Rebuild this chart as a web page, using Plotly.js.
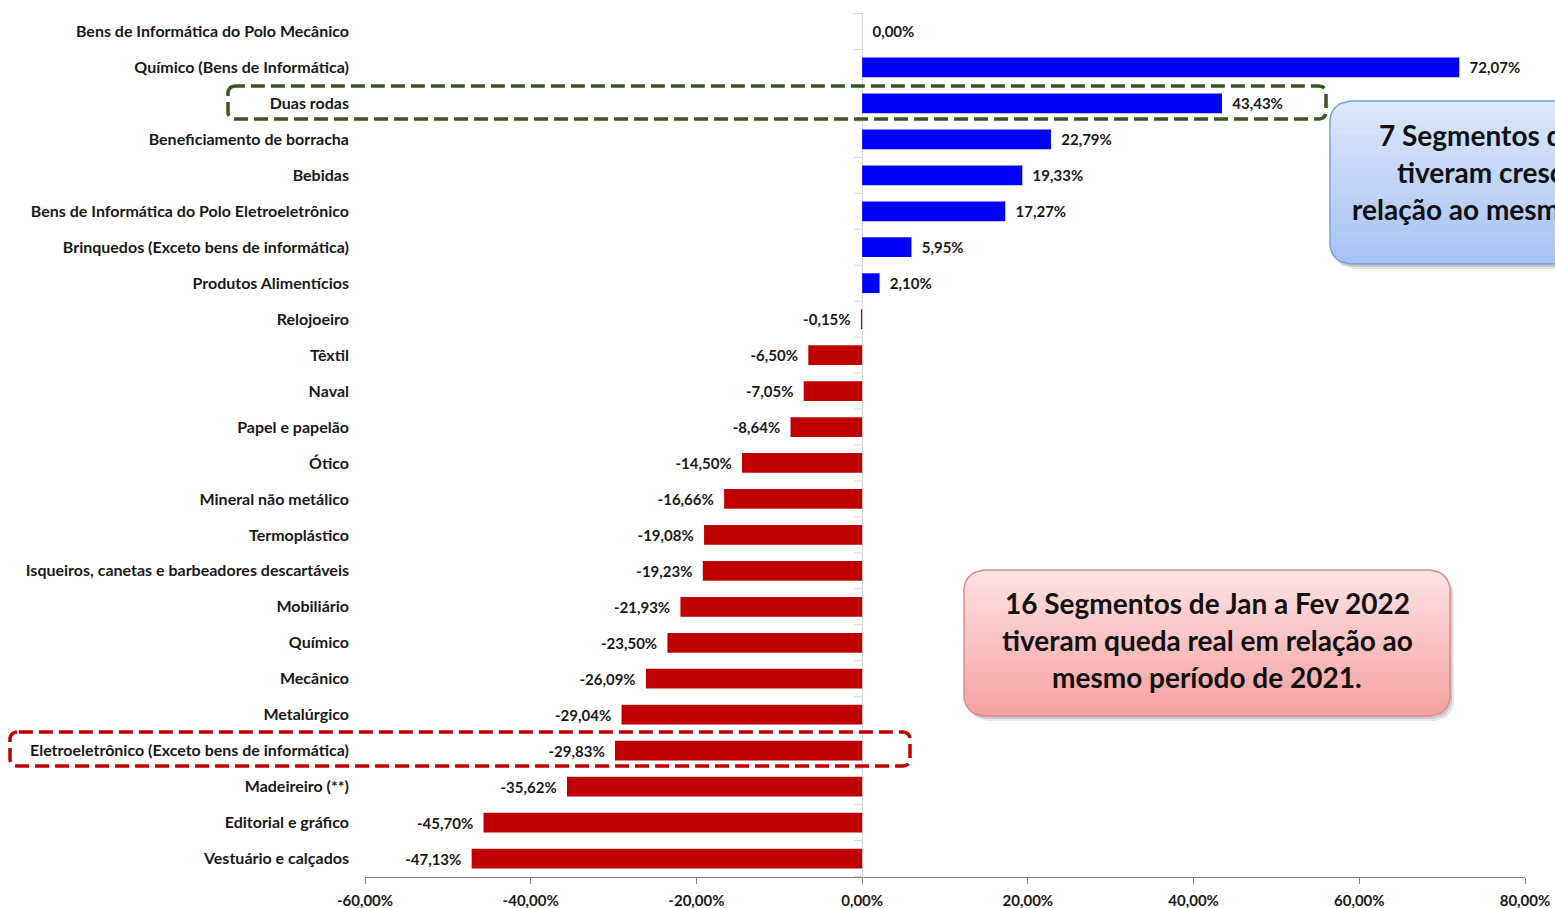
<!DOCTYPE html>
<html><head><meta charset="utf-8">
<script src="https://cdn.plot.ly/plotly-3.0.1.min.js"></script>
<style>html,body{margin:0;padding:0;background:#fff;}#chart{width:1555px;height:908px;}</style>
</head><body><div id="chart"></div>
<script>
const categories = [
  "Bens de Informática do Polo Mecânico",
  "Químico (Bens de Informática)",
  "Duas rodas",
  "Beneficiamento de borracha",
  "Bebidas",
  "Bens de Informática do Polo Eletroeletrônico",
  "Brinquedos (Exceto bens de informática)",
  "Produtos Alimentícios",
  "Relojoeiro",
  "Têxtil",
  "Naval",
  "Papel e papelão",
  "Ótico",
  "Mineral não metálico",
  "Termoplástico",
  "Isqueiros, canetas e barbeadores descartáveis",
  "Mobiliário",
  "Químico",
  "Mecânico",
  "Metalúrgico",
  "Eletroeletrônico (Exceto bens de informática)",
  "Madeireiro (**)",
  "Editorial e gráfico",
  "Vestuário e calçados"
];
const values = [0.00, 72.07, 43.43, 22.79, 19.33, 17.27, 5.95, 2.10, -0.15, -6.50, -7.05, -8.64, -14.50, -16.66, -19.08, -19.23, -21.93, -23.50, -26.09, -29.04, -29.83, -35.62, -45.70, -47.13];
const xTickVals = [-60, -40, -20, 0, 20, 40, 60, 80];
const greenBoxLines = ["7 Segmentos de Jan a Fev 2022", "tiveram crescimento real em", "relação ao mesmo período de 2021."];
const redBoxLines = ["16 Segmentos de Jan a Fev 2022", "tiveram queda real em relação ao", "mesmo período de 2021."];

const fmt = v => v.toFixed(2).replace('.', ',') + '%';
const NB = '\u00a0\u00a0';
const labels = values.map(v => v >= 0 ? NB + fmt(v) : fmt(v) + NB);
const colors = values.map(v => v >= 0 ? '#0000FF' : '#C00000');

// plot-area geometry (pixels)
const L = 365, T = 13, W = 1160, H = 864;
const px = x => (x - L) / W;
const py = y => (T + H - y) / H;

function xAt(x0, x1, y0, y1, r, y, side) {
  let dy = 0;
  if (y < y0 + r) dy = y0 + r - y;
  else if (y > y1 - r) dy = y - (y1 - r);
  const off = r - Math.sqrt(Math.max(0, r * r - dy * dy));
  return side === 'l' ? x0 + off : x1 - off;
}
function stripPath(x0, x1, y0, y1, r, ya, yb, n) {
  const left = [], right = [];
  for (let i = 0; i <= n; i++) {
    const y = ya + (yb - ya) * i / n;
    left.push([xAt(x0, x1, y0, y1, r, y, 'l'), y]);
    right.push([xAt(x0, x1, y0, y1, r, y, 'r'), y]);
  }
  const pts = left.concat(right.reverse());
  return 'M' + pts.map(p => px(p[0]).toFixed(5) + ',' + py(p[1]).toFixed(5)).join('L') + 'Z';
}
function roundPath(x0, y0, x1, y1, r) {
  return stripPath(x0, x1, y0, y1, r, y0, y1, 60);
}
function hexToRgb(h) { return [1, 3, 5].map(i => parseInt(h.substr(i, 2), 16)); }
function mix(a, b, t) {
  const A = hexToRgb(a), B = hexToRgb(b);
  return 'rgb(' + A.map((v, i) => Math.round(v + (B[i] - v) * t)).join(',') + ')';
}
function gradientBox(x0, y0, x1, y1, r, top, bottom, border) {
  const shapes = [];
  shapes.push({type: 'path', xref: 'paper', yref: 'paper', layer: 'above', path: roundPath(x0 + 4, y0 + 5, x1 + 4, y1 + 5, r), fillcolor: 'rgba(0,0,0,0.10)', line: {width: 0}});
  shapes.push({type: 'path', xref: 'paper', yref: 'paper', layer: 'above', path: roundPath(x0 + 2, y0 + 3, x1 + 2, y1 + 3, r), fillcolor: 'rgba(0,0,0,0.12)', line: {width: 0}});
  const n = 24;
  for (let i = 0; i < n; i++) {
    const ya = y0 + (y1 - y0) * i / n, yb = y0 + (y1 - y0) * (i + 1) / n + 0.6;
    shapes.push({type: 'path', xref: 'paper', yref: 'paper', layer: 'above', path: stripPath(x0, x1, y0, y1, r, ya, Math.min(yb, y1), 6), fillcolor: mix(top, bottom, (i + 0.5) / n), line: {width: 0}});
  }
  shapes.push({type: 'path', xref: 'paper', yref: 'paper', layer: 'above', path: roundPath(x0, y0, x1, y1, r), fillcolor: 'rgba(0,0,0,0)', line: {color: border, width: 1.5}});
  return shapes;
}

const shapes = []
  .concat(gradientBox(1330, 101, 1817, 264, 20, '#dde8fb', '#a5c2f3', '#7fa0d6'))
  .concat(gradientBox(964, 570, 1450, 716, 20, '#ffe3e3', '#f6a0a0', '#d98e8d'));
shapes.push({type: 'path', xref: 'paper', yref: 'paper', layer: 'above', path: roundPath(228, 86, 1326, 119, 7), fillcolor: 'rgba(0,0,0,0)', line: {color: '#375623', width: 3.5, dash: '14px,6px'}});
shapes.push({type: 'path', xref: 'paper', yref: 'paper', layer: 'above', path: roundPath(10, 732, 910, 766, 7), fillcolor: 'rgba(0,0,0,0)', line: {color: '#C00000', width: 3.5, dash: '14px,6px'}});
// small category tick marks on the vertical axis at zero
for (let i = 0; i <= categories.length; i++) {
  shapes.push({type: 'line', xref: 'x', yref: 'y', x0: -1, x1: 0, y0: i - 0.5, y1: i - 0.5, layer: 'below', line: {color: '#d9d9d9', width: 1}});
}

const boxFont = {family: 'Lato, "Open Sans", sans-serif', size: 28, color: '#111', weight: 'bold'};
const annotations = [];
greenBoxLines.forEach((t, i) => annotations.push({xref: 'paper', yref: 'paper', x: px(1573), y: py(135 + 37 * i), text: t, showarrow: false, xanchor: 'center', yanchor: 'middle', font: boxFont}));
redBoxLines.forEach((t, i) => annotations.push({xref: 'paper', yref: 'paper', x: px(1207), y: py(603 + 37 * i), text: t, showarrow: false, xanchor: 'center', yanchor: 'middle', font: boxFont}));

const trace = {
  type: 'bar', orientation: 'h',
  y: categories, x: values,
  marker: {color: colors, line: {width: 0}},
  width: 0.55,
  text: labels, textposition: 'outside', cliponaxis: false,
  textfont: {family: 'Lato, sans-serif', size: 15, color: '#1a1a1a', weight: 'bold'},
  hoverinfo: 'y+x'
};

const layout = {
  width: 1555, height: 908, autosize: false,
  margin: {l: L, r: 1555 - L - W, t: T, b: 908 - T - H, pad: 0},
  paper_bgcolor: '#fff', plot_bgcolor: '#fff',
  showlegend: false,
  separators: ',.',
  font: {family: 'Lato, sans-serif', color: '#1a1a1a'},
  xaxis: {
    range: [-60, 80], tickvals: xTickVals, ticktext: xTickVals.map(fmt),
    showgrid: false, zeroline: true, zerolinecolor: '#d9d9d9', zerolinewidth: 1,
    showline: true, linecolor: '#868686', linewidth: 1,
    ticks: 'outside', ticklen: 6, tickcolor: '#868686',
    ticklabelstandoff: 4,
    tickfont: {family: 'Lato, sans-serif', size: 15, color: '#1a1a1a', weight: 'bold'},
    fixedrange: true
  },
  yaxis: {
    type: 'category', autorange: 'reversed',
    showgrid: false, zeroline: false, showline: false, ticks: '',
    ticklabelstandoff: 15,
    tickfont: {family: 'Lato, sans-serif', size: 16, color: '#1a1a1a', weight: 'bold'},
    fixedrange: true
  },
  bargap: 0.45,
  shapes: shapes,
  annotations: annotations
};

Plotly.newPlot('chart', [trace], layout, {displayModeBar: false, staticPlot: true});
</script>
</body></html>
